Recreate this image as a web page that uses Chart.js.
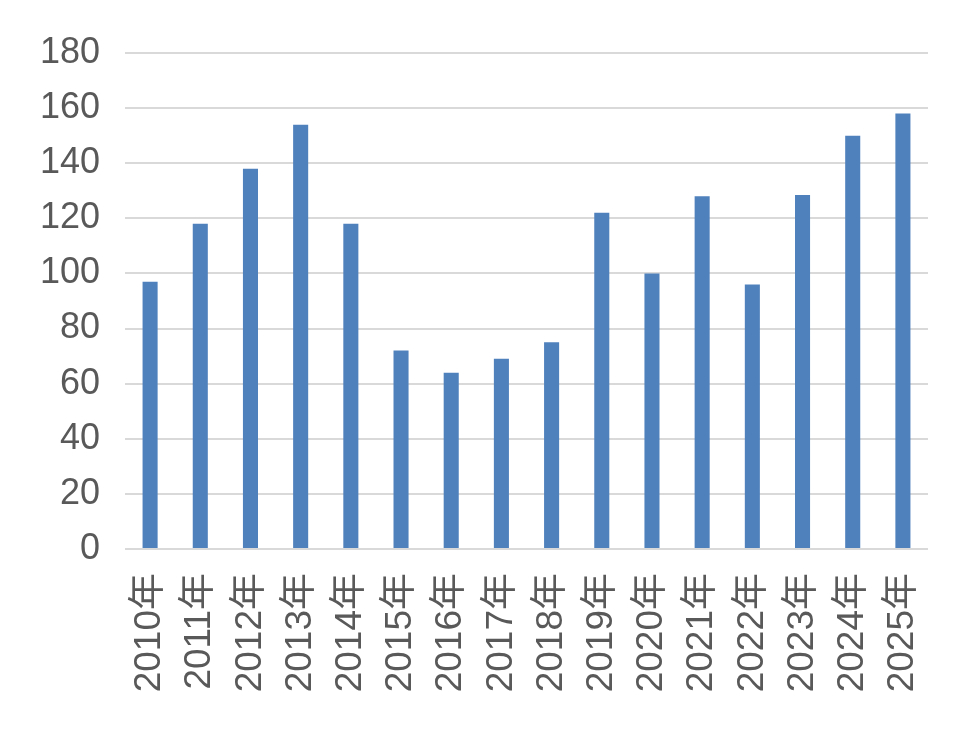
<!DOCTYPE html>
<html>
<head>
<meta charset="utf-8">
<script src="https://cdn.jsdelivr.net/npm/chart.js@4"></script>
<style>
  html, body { margin: 0; padding: 0; background: #fff; }
  #wrap { width: 980px; height: 738px; }
</style>
</head>
<body>
<div id="wrap"><canvas id="chart" width="980" height="738"></canvas></div>
<script>
// values
const years = ['2010年', '2011年', '2012年', '2013年', '2014年', '2015年', '2016年', '2017年',
               '2018年', '2019年', '2020年', '2021年', '2022年', '2023年', '2024年', '2025年'];
const values = [97, 118, 138, 154, 118, 72, 64, 69, 75, 122, 100, 128, 96, 128.5, 150, 158];
const yTicks = [0, 20, 40, 60, 80, 100, 120, 140, 160, 180];

const fontFamily = '"Liberation Sans", Arial, "Noto Sans CJK SC", sans-serif';
const textColor = '#595959';

const ctx = document.getElementById('chart');

new Chart(ctx, {
    type: 'bar',
    data: {
        labels: years,
        datasets: [{
            data: values,
            backgroundColor: '#4F81BD',
            borderWidth: 0,
            barPercentage: 0.3,
            categoryPercentage: 1
        }]
    },
    options: {
        responsive: false,
        animation: false,
        layout: {
            padding: { top: 53, right: 52, bottom: 0, left: 0 }
        },
        plugins: {
            legend: { display: false },
            tooltip: { enabled: false }
        },
        scales: {
            x: {
                grid: { display: false, drawTicks: false },
                border: { display: false },
                ticks: {
                    minRotation: 90,
                    maxRotation: 90,
                    autoSkip: false,
                    padding: 24,
                    color: textColor,
                    font: { family: fontFamily, size: 37 }
                },
                afterFit: (scale) => { scale.height = 189; }
            },
            y: {
                min: yTicks[0],
                max: yTicks[yTicks.length - 1],
                grid: { color: '#d9d9d9', lineWidth: 2, drawTicks: false },
                border: { display: false },
                ticks: {
                    stepSize: yTicks[1] - yTicks[0],
                    padding: 25,
                    color: textColor,
                    font: { family: fontFamily, size: 36 }
                },
                afterFit: (scale) => { scale.width = 125; }
            }
        }
    }
});
</script>
</body>
</html>
